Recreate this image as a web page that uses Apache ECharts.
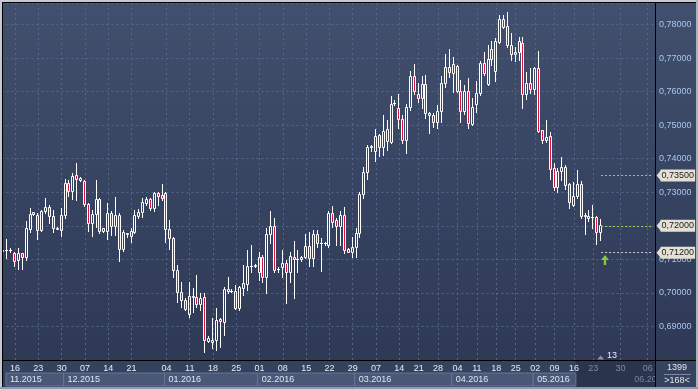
<!DOCTYPE html>
<html><head><meta charset="utf-8">
<script src="https://cdn.jsdelivr.net/npm/echarts@6/dist/echarts.min.js"></script>
<style>html,body{margin:0;padding:0;background:#2c3855}#c{width:698px;height:389px}</style>
</head><body><div id="c"></div><script>
const opens = [0.7125,0.7128,0.7128,0.7118,0.7098,0.7118,0.7108,0.7190,0.7234,0.7232,
0.7187,0.7244,0.7255,0.7229,0.7192,0.7187,0.7232,0.7329,0.7304,0.7351,
0.7336,0.7334,0.7264,0.7207,0.7234,0.7279,0.7184,0.7184,0.7239,0.7199,
0.7232,0.7130,0.7177,0.7169,0.7182,0.7229,0.7242,0.7269,0.7279,0.7252,
0.7298,0.7292,0.7298,0.7189,0.7163,0.7068,0.7003,0.6979,0.6937,0.6989,
0.6987,0.6966,0.6987,0.6857,0.6860,0.6860,0.6921,0.6914,0.7006,0.7006,
0.7006,0.6954,0.7015,0.7028,0.7080,0.7081,0.7063,0.7106,0.7048,0.7177,
0.7199,0.7070,0.7076,0.7088,0.7063,0.7108,0.7100,0.7100,0.7106,0.7140,
0.7103,0.7177,0.7149,0.7148,0.7142,0.7237,0.7217,0.7200,0.7232,0.7130,
0.7121,0.7136,0.7180,0.7294,0.7359,0.7434,0.7423,0.7472,0.7435,0.7452,
0.7449,0.7565,0.7550,0.7517,0.7457,0.7553,0.7647,0.7594,0.7580,0.7624,
0.7537,0.7530,0.7508,0.7543,0.7627,0.7672,0.7656,0.7676,0.7603,0.7542,
0.7601,0.7503,0.7563,0.7596,0.7684,0.7624,0.7696,0.7662,0.7748,0.7816,
0.7796,0.7738,0.7711,0.7717,0.7746,0.7592,0.7627,0.7607,0.7669,0.7485,
0.7457,0.7467,0.7373,0.7316,0.7364,0.7376,0.7326,0.7262,0.7289,0.7326,
0.7230,0.7230,0.7227,0.7225,0.7182];
const highs = [0.7131,0.7160,0.7133,0.7123,0.7134,0.7120,0.7214,0.7252,0.7241,0.7237,
0.7247,0.7282,0.7262,0.7247,0.7196,0.7252,0.7338,0.7336,0.7358,0.7386,
0.7346,0.7336,0.7267,0.7247,0.7336,0.7282,0.7194,0.7269,0.7245,0.7286,
0.7237,0.7187,0.7180,0.7192,0.7247,0.7249,0.7282,0.7286,0.7282,0.7301,
0.7301,0.7326,0.7301,0.7217,0.7166,0.7083,0.7033,0.6984,0.7033,0.7014,
0.7053,0.6999,0.6999,0.6871,0.6924,0.6954,0.6925,0.7018,0.7046,0.7011,
0.7023,0.7020,0.7083,0.7128,0.7143,0.7086,0.7123,0.7113,0.7192,0.7244,
0.7222,0.7078,0.7128,0.7098,0.7123,0.7154,0.7128,0.7110,0.7177,0.7182,
0.7187,0.7187,0.7163,0.7152,0.7244,0.7259,0.7222,0.7245,0.7257,0.7133,
0.7166,0.7192,0.7301,0.7374,0.7440,0.7440,0.7487,0.7475,0.7530,0.7514,
0.7586,0.7575,0.7594,0.7530,0.7562,0.7661,0.7681,0.7627,0.7646,0.7649,
0.7540,0.7535,0.7560,0.7646,0.7711,0.7726,0.7702,0.7679,0.7634,0.7621,
0.7639,0.7580,0.7631,0.7691,0.7718,0.7738,0.7750,0.7761,0.7828,0.7828,
0.7838,0.7776,0.7733,0.7763,0.7763,0.7659,0.7671,0.7674,0.7720,0.7485,
0.7515,0.7480,0.7386,0.7371,0.7404,0.7381,0.7328,0.7331,0.7366,0.7333,
0.7237,0.7247,0.7262,0.7230,0.7219];
const lows = [0.7060,0.7103,0.7123,0.7081,0.7070,0.7070,0.7098,0.7182,0.7232,0.7160,
0.7184,0.7237,0.7207,0.7182,0.7190,0.7169,0.7222,0.7289,0.7279,0.7277,
0.7333,0.7259,0.7185,0.7170,0.7197,0.7179,0.7182,0.7160,0.7174,0.7172,
0.7096,0.7125,0.7166,0.7152,0.7179,0.7224,0.7227,0.7262,0.7247,0.7244,
0.7262,0.7277,0.7152,0.7130,0.7048,0.6974,0.6959,0.6949,0.6927,0.6943,
0.6959,0.6949,0.6825,0.6854,0.6835,0.6830,0.6839,0.6874,0.6999,0.7003,
0.6951,0.6949,0.6994,0.7009,0.7063,0.7076,0.7038,0.7033,0.7000,0.7149,
0.7063,0.7063,0.7048,0.6971,0.7033,0.6984,0.7063,0.7096,0.7103,0.7081,
0.7081,0.7137,0.7066,0.7143,0.7137,0.7197,0.7143,0.7143,0.7118,0.7121,
0.7108,0.7108,0.7166,0.7282,0.7338,0.7424,0.7394,0.7408,0.7411,0.7426,
0.7446,0.7560,0.7492,0.7446,0.7416,0.7545,0.7594,0.7569,0.7550,0.7520,
0.7477,0.7495,0.7492,0.7510,0.7614,0.7644,0.7599,0.7599,0.7510,0.7532,
0.7492,0.7500,0.7540,0.7589,0.7649,0.7619,0.7679,0.7631,0.7745,0.7788,
0.7733,0.7694,0.7691,0.7694,0.7550,0.7577,0.7597,0.7594,0.7480,0.7446,
0.7450,0.7338,0.7308,0.7300,0.7336,0.7311,0.7254,0.7260,0.7282,0.7222,
0.7177,0.7214,0.7194,0.7145,0.7157];
const closes = [0.7128,0.7129,0.7128,0.7096,0.7118,0.7108,0.7192,0.7234,0.7240,0.7187,
0.7245,0.7255,0.7229,0.7192,0.7191,0.7232,0.7329,0.7304,0.7349,0.7338,
0.7343,0.7264,0.7207,0.7235,0.7279,0.7184,0.7192,0.7239,0.7199,0.7231,
0.7130,0.7182,0.7179,0.7184,0.7232,0.7242,0.7272,0.7279,0.7252,0.7298,
0.7289,0.7283,0.7189,0.7163,0.7068,0.7003,0.6979,0.6951,0.6991,0.6991,
0.6966,0.6986,0.6860,0.6865,0.6854,0.6919,0.6916,0.7011,0.7011,0.7007,
0.6954,0.7017,0.7030,0.7080,0.7080,0.7082,0.7106,0.7048,0.7177,0.7199,
0.7068,0.7070,0.7088,0.7063,0.7110,0.7100,0.7100,0.7108,0.7140,0.7103,
0.7177,0.7149,0.7149,0.7148,0.7237,0.7212,0.7200,0.7232,0.7128,0.7123,
0.7136,0.7180,0.7294,0.7359,0.7434,0.7439,0.7469,0.7435,0.7484,0.7487,
0.7562,0.7565,0.7517,0.7457,0.7553,0.7647,0.7602,0.7580,0.7624,0.7535,
0.7530,0.7508,0.7543,0.7627,0.7672,0.7657,0.7681,0.7601,0.7543,0.7601,
0.7505,0.7553,0.7597,0.7684,0.7654,0.7697,0.7726,0.7750,0.7816,0.7793,
0.7738,0.7711,0.7717,0.7750,0.7592,0.7627,0.7607,0.7671,0.7483,0.7457,
0.7465,0.7368,0.7316,0.7364,0.7376,0.7323,0.7270,0.7289,0.7326,0.7230,
0.7231,0.7222,0.7227,0.7182,0.7202];

const slotCount = 168;              // visible bars (">168<")
const tickIdx  = [3,9,15,21,27,33,42,48,54,60,66,72,78,84,90,96,102,107,112,117,122,127,132,137,142,147,152,159,166];
const tickText = ['16','23','30','07','14','21','04','11','18','25','01','08','15','22','29','07','14','21','28','04','11','18','25','02','09','16','23','30','06'];
const monthStart = [0,16,42,66,91,116,137,162];
const monthText  = ['11.2015','12.2015','01.2016','02.2016','03.2016','04.2016','05.2016','06.2016'];
const futureFrom  = 148;            // start of the dimmed part of the time strip
const levels      = [0.735, 0.720, 0.712];
const levelColors = ['#9ccc5e', '#9ccc5e', '#c8cdd8'];
const arrowLevel  = 0.7098;
const shiftBars   = 13;
const barsTotal   = 1399;

const fmt = v => v.toFixed(5).replace('.', ',');
const cats = Array.from({length: slotCount}, (_, i) => 'b' + i);
const rows = opens.map((o, i) => [i, o, closes[i], lows[i], highs[i]]);
const tickSet = new Set(tickIdx);
const FONT = 'Liberation Sans, Arial, sans-serif';
const RED = '#dc143c';
const TAG = '#e4e1d4';

function renderCandle(params, api) {
  const i = api.value(0);
  const o = api.value(1), c = api.value(2), l = api.value(3), h = api.value(4);
  const x = Math.round(api.coord([i, o])[0]) - 1;
  const yo = api.coord([i, o])[1], yc = api.coord([i, c])[1];
  const yh = Math.round(api.coord([i, h])[1]), yl = Math.round(api.coord([i, l])[1]);
  const top = Math.round(Math.min(yo, yc)), bot = Math.round(Math.max(yo, yc));
  const ch = [];
  const W = {stroke:'#ffffff', lineWidth:1};
  if (top > yh) ch.push({type:'line', shape:{x1:x + 0.5, y1:yh, x2:x + 0.5, y2:top}, style:W});
  if (yl > bot) ch.push({type:'line', shape:{x1:x + 0.5, y1:bot + 1, x2:x + 0.5, y2:yl + 1}, style:W});
  if (bot - top < 1) {
    ch.push({type:'rect', shape:{x:x - 1, y:top, width:3, height:1}, style:{fill:'#ffffff'}});
  } else {
    ch.push({type:'rect', shape:{x:x - 0.5, y:top + 0.5, width:2, height:bot - top},
      style:{stroke:'#ffffff', lineWidth:1, fill: c < o ? RED : 'none'}});
  }
  return {type:'group', children:ch};
}

const chart = echarts.init(document.getElementById('c'));
chart.setOption({
  animation: false,
  backgroundColor: {type:'linear', x:0, y:0, x2:0, y2:1,
    colorStops:[{offset:0, color:'#41506e'}, {offset:1, color:'#2c3753'}]},
  grid: {left: 1.5, top: 3, right: 44.5, bottom: 29},
  xAxis: {
    type: 'category', data: cats, boundaryGap: true,
    axisLine: {show:false}, axisTick: {show:false}, axisLabel: {show:false},
    splitLine: {show:true, alignWithLabel:true, interval: (i) => tickSet.has(i),
      lineStyle: {color:'#56668b', type:[2,3], width:1}}
  },
  yAxis: {
    type: 'value', position: 'right', min: 0.68, max: 0.7864, interval: 0.01,
    axisLine: {show:false}, axisTick: {show:false},
    axisLabel: {color:'#a8c6ee', fontSize:9, fontFamily:FONT, margin:5.5,
      showMinLabel:false, showMaxLabel:false, formatter: fmt},
    splitLine: {show:true, lineStyle: {color:'#56668b', type:[2,3], width:1}}
  },
  series: [{
    type: 'custom', data: rows, renderItem: renderCandle, clip: false, z: 3,
    encode: {x: 0, y: [1, 2, 3, 4]},
    markLine: {
      silent: true, symbol: 'none', animation: false,
      lineStyle: {type:[2,2], width:1},
      label: {show:true, position:'end', distance:9, formatter:'{b}', backgroundColor:TAG,
        color:'#1c1c1c', fontSize:9, fontFamily:FONT, padding:[2,1,1,1]},
      data: levels.map((lv, k) => [
        {coord:[opens.length - 1, lv], name: fmt(lv), lineStyle:{color: levelColors[k]}},
        {coord:[slotCount - 1, lv]}
      ])
    },
    markPoint: {
      silent: true, animation: false, label: {show:false},
      data: [{coord:[opens.length, arrowLevel], symbol:'path://M5,0 L10,5 L6.5,5 L6.5,10 L3.5,10 L3.5,5 L0,5 Z',
        symbolSize:[8,10], itemStyle:{color:'#8cc63f'}}]
    }
  }]
});

const px = i => chart.convertToPixel({xAxisIndex:0}, i);
const py = v => chart.convertToPixel({yAxisIndex:0}, v);
const half = (px(1) - px(0)) / 2;
const xFuture = px(futureFrom) - half;
const g = [];
// pointed tips of the level tags
const tagLeft = px(slotCount - 1) + 9;
levels.forEach(lv => {
  const y = py(lv);
  g.push({type:'polygon', shape:{points:[[tagLeft - 4, y], [tagLeft + 0.5, y - 5.5], [tagLeft + 0.5, y + 5.5]]}, style:{fill:TAG}, z:60});
});
// bottom strip
g.push({type:'rect', shape:{x:3, y:361, width:652, height:26}, style:{fill:'#35425e'}});
g.push({type:'rect', shape:{x:xFuture, y:361, width:655 - xFuture, height:26}, style:{fill:'#2a344c'}});
monthStart.forEach((s, k) => {
  const x0 = Math.max(6, px(s) - half);
  let x1 = k + 1 < monthStart.length ? px(monthStart[k + 1]) - half : 655;
  const future = x0 >= xFuture;
  if (!future) {
    x1 = Math.min(x1, xFuture);
    g.push({type:'rect', shape:{x:x0, y:373, width:x1 - x0, height:13},
      style:{fill:'#4a5878', stroke:'#65759a', lineWidth:1}});
  }
  g.push({type:'text', x:x0 + 4, y:380, style:{text:monthText[k], fill: future ? '#76839e' : '#dfe6f2',
    font:'9px ' + FONT, verticalAlign:'middle'}});
});
tickIdx.forEach((t, k) => {
  g.push({type:'text', x:px(t), y:368.5, style:{text:tickText[k], fill: t > futureFrom ? '#7d8aa5' : '#e6ecf6',
    font:'9px ' + FONT, align:'center', verticalAlign:'middle'}});
});
// shift marker
const xs = px(opens.length - 1);
g.push({type:'polygon', shape:{points:[[xs - 4, 359.5], [xs + 3, 359.5], [xs - 0.5, 355.5]]}, style:{fill:'#8793aa'}});
g.push({type:'text', x:xs + 6, y:355.5, style:{text:String(shiftBars), fill:'#e6ecf6', font:'9px ' + FONT, verticalAlign:'middle'}});
// right-bottom box
g.push({type:'rect', shape:{x:656, y:361, width:40, height:26}, style:{fill:'#36435f'}});
g.push({type:'text', x:677, y:368, style:{text:String(barsTotal), fill:'#e0e6f0', font:'9px ' + FONT, align:'center', verticalAlign:'middle'}});
g.push({type:'line', shape:{x1:664, y1:374.5, x2:691, y2:374.5}, style:{stroke:'#7d8aa4', lineWidth:1}});
g.push({type:'text', x:677, y:380.5, style:{text:'>' + slotCount + '<', fill:'#e0e6f0', font:'9px ' + FONT, align:'center', verticalAlign:'middle'}});
// frame
g.push({type:'rect', shape:{x:0, y:0, width:698, height:2}, style:{fill:'#c3cad6'}});
g.push({type:'rect', shape:{x:0, y:0, width:2, height:389}, style:{fill:'#c3cad6'}});
g.push({type:'rect', shape:{x:696, y:0, width:2, height:389}, style:{fill:'#a9b3c4'}});
g.push({type:'rect', shape:{x:0, y:387, width:698, height:2}, style:{fill:'#8f9bb2'}});
g.push({type:'rect', shape:{x:2, y:2, width:694, height:1}, style:{fill:'#000'}});
g.push({type:'rect', shape:{x:2, y:2, width:1, height:385}, style:{fill:'#000'}});
g.push({type:'rect', shape:{x:2, y:360, width:694, height:1}, style:{fill:'#000'}});
g.push({type:'rect', shape:{x:655, y:2, width:1, height:385}, style:{fill:'#000'}});
chart.setOption({graphic: g.map(e => Object.assign({silent:true, z:50}, e))});
</script></body></html>
